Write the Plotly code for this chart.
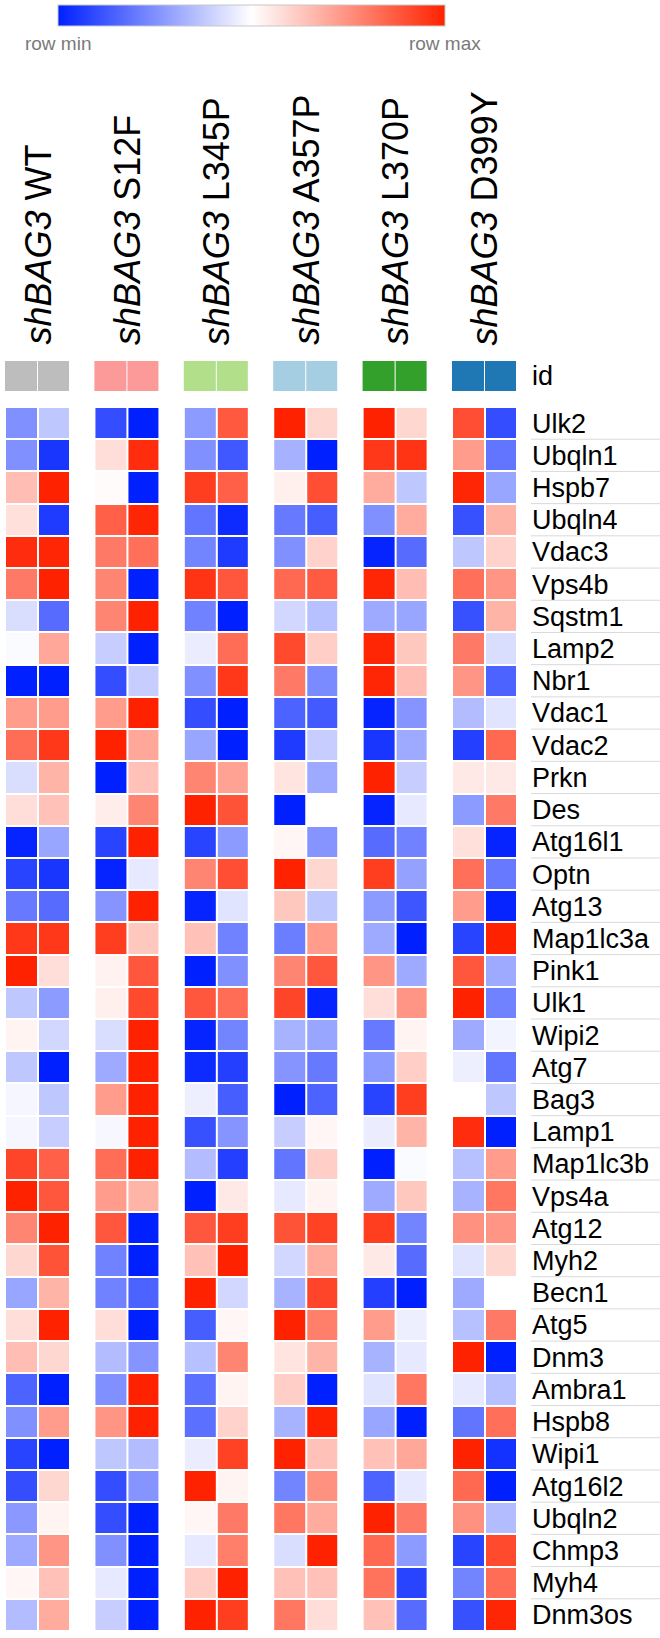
import plotly.graph_objects as go

genes = ["Ulk2", "Ubqln1", "Hspb7", "Ubqln4", "Vdac3", "Vps4b", "Sqstm1", "Lamp2", "Nbr1",
         "Vdac1", "Vdac2", "Prkn", "Des", "Atg16l1", "Optn", "Atg13", "Map1lc3a", "Pink1",
         "Ulk1", "Wipi2", "Atg7", "Bag3", "Lamp1", "Map1lc3b", "Vps4a", "Atg12", "Myh2",
         "Becn1", "Atg5", "Dnm3", "Ambra1", "Hspb8", "Wipi1", "Atg16l2", "Ubqln2", "Chmp3",
         "Myh4", "Dnm3os"]

group_labels = ["<i>shBAG3</i> WT", "<i>shBAG3</i> S12F", "<i>shBAG3</i> L345P",
                "<i>shBAG3</i> A357P", "<i>shBAG3</i> L370P", "<i>shBAG3</i> D399Y"]
group_colors = ["#bdbdbd", "#fb9a99", "#b2df8a", "#a6cee3", "#33a02c", "#1f78b4"]

# row-scaled expression (-1 = row min, +1 = row max), two replicates per group
wt_1 = [-0.5, -0.5, 0.3, 0.14, 0.95, 0.6, -0.15, -0.02, -1, 0.45, 0.66, -0.15, 0.15, -0.98, -0.84, -0.6, 0.9, 1, -0.25,
        0.05, -0.25, -0.04, -0.04, 0.84, 1, 0.55, 0.18, -0.4, 0.15, 0.3, -0.7, -0.5, -0.84, -0.8, -0.46, -0.38, 0.04, -0.3]
wt_2 = [-0.25, -0.9, 1, -0.88, 0.98, 1, -0.66, 0.4, -1, 0.45, 0.9, 0.34, 0.28, -0.4, -0.9, -0.66, 0.9, 0.15, -0.45,
        -0.18, -1, -0.25, -0.22, 0.72, 0.76, 1, 0.78, 0.34, 1, 0.18, -1, 0.45, -1, 0.18, 0.05, 0.48, 0.28, 0.38]
s12f_1 = [-0.8, 0.15, 0.02, 0.72, 0.6, 0.55, 0.55, -0.22, -0.8, 0.45, 1, -1, 0.08, -0.84, -0.98, -0.48, 0.88, 0.06, 0.07,
          -0.15, -0.38, 0.45, -0.03, 0.66, 0.45, 0.76, -0.56, -0.56, 0.15, -0.3, -0.5, 0.48, -0.25, -0.8, -0.8, -0.5, -0.1, -0.22]
s12f_2 = [-1, 0.95, -1, 0.98, 0.65, -1, 1, -1, -0.22, 1, 0.4, 0.28, 0.55, 1, -0.1, 1, 0.25, 0.76, 0.82,
          1, 1, 1, 1, 1, 0.34, -1, -1, -0.7, -1, -0.48, 1, 1, -0.3, -0.48, -1, -1, -1, -1]
l345p_1 = [-0.45, -0.5, 0.88, -0.62, -0.55, 0.92, -0.56, -0.08, -0.5, -0.8, -0.4, 0.55, 1, -0.84, 0.55, -0.98, 0.28, -1, 0.76,
           -0.98, -0.95, -0.07, -0.78, -0.3, -1, 0.76, 0.28, 1, -0.72, -0.28, -0.64, -0.64, -0.08, 1, 0.04, -0.1, 0.22, 1]
l345p_2 = [0.75, -0.75, 0.72, -0.95, -0.88, 0.76, -1, 0.66, 0.9, -1, -1, 0.42, 0.78, -0.45, 0.8, -0.12, -0.56, -0.5, 0.66,
           -0.55, -0.86, -0.72, -0.48, -0.86, 0.1, 0.88, 1, -0.18, 0.04, 0.55, 0.05, 0.2, 0.86, 0.05, 0.6, 0.58, 1, 0.88]
a357p_1 = [1, -0.35, 0.07, -0.6, -0.5, 0.68, -0.18, 0.82, 0.6, -0.7, -0.88, 0.12, -1, 0.04, 1, 0.25, -0.58, 0.55, 0.84,
           -0.34, -0.48, -1, -0.22, -0.62, -0.1, 0.78, -0.18, -0.34, 1, 0.12, 0.22, -0.34, 1, -0.55, 0.62, -0.15, 0.28, 0.62]
a357p_2 = [0.18, -1, 0.8, -0.72, 0.2, 0.74, -0.28, 0.22, -0.52, -0.74, -0.22, -0.38, 0.0, -0.48, 0.18, -0.25, 0.45, 0.76, -0.98,
           -0.4, -0.6, -0.7, 0.04, 0.22, 0.05, 0.86, 0.38, 0.84, 0.58, 0.34, -1, 1, 0.28, 0.5, 0.38, 1, 0.28, 0.15]
l370p_1 = [1, 0.9, 0.38, -0.5, -0.98, 0.98, -0.38, 0.98, 0.98, -0.98, -0.9, 1, -0.98, -0.66, 0.88, -0.45, -0.38, 0.48, 0.15,
           -0.6, -0.45, -0.84, -0.08, -1, -0.38, 0.88, 0.1, -0.86, 0.45, -0.34, -0.12, -0.4, 0.28, -0.7, 1, 0.68, 0.64, 0.28]
l370p_2 = [0.18, 0.92, -0.25, 0.38, -0.66, 0.3, -0.4, 0.25, 0.3, -0.48, -0.38, -0.22, -0.1, -0.56, -0.42, -0.76, -1, -0.38, 0.48,
           0.05, 0.22, 0.88, 0.34, -0.02, 0.25, -0.55, -0.66, -1, -0.07, -0.1, 0.62, -1, 0.4, -0.1, 0.6, -0.45, -0.84, -0.66]
d399y_1 = [0.8, 0.45, 0.98, -0.78, -0.25, 0.65, -0.78, 0.6, 0.48, -0.3, -0.86, 0.1, -0.45, 0.14, 0.65, 0.45, -0.84, 0.76, 1,
           -0.38, -0.07, 0.0, 0.95, -0.28, -0.34, 0.5, -0.12, -0.38, -0.28, 1, -0.1, -0.62, 1, 0.68, 0.5, -0.84, -0.55, -0.78]
d399y_2 = [-0.8, -0.62, -0.4, 0.34, 0.2, 0.48, 0.34, -0.15, -0.7, -0.12, 0.68, 0.1, 0.6, -0.98, -0.6, -0.98, 1, -0.38, -0.56,
           -0.05, -0.62, -0.25, -1, 0.45, 0.62, 0.48, 0.18, 0.0, 0.6, -1, -0.28, 0.65, -0.92, -1, -0.3, 0.82, 0.66, 0.98]

groups = [(wt_1, wt_2), (s12f_1, s12f_2), (l345p_1, l345p_2),
          (a357p_1, a357p_2), (l370p_1, l370p_2), (d399y_1, d399y_2)]
for a, b in groups:
    assert len(a) == len(genes) and len(b) == len(genes), (len(a), len(b))

# ---- layout constants (pixels) ----
W, H = 660, 1638
GROUP_PITCH = 2.75          # in cell units
X_LEFT, X_RIGHT = 5, 517    # heatmap horizontal extent
HM_TOP, HM_BOT = 407, 1631
ID_TOP, ID_BOT = 361, 391
LINE_X = 531
AXIS_X = 531
FONT = "Liberation Sans, Arial, Helvetica, sans-serif"

def py(p):
    return 1 - p / H

colorscale = [[0.0, "rgb(0,32,255)"], [0.5, "rgb(255,255,255)"], [1.0, "rgb(255,34,0)"]]
id_scale = [[i / (len(group_colors) - 1), c] for i, c in enumerate(group_colors)]

fig = go.Figure()
for g, (r1, r2) in enumerate(groups):
    xs = [g * GROUP_PITCH + 0.5, g * GROUP_PITCH + 1.5]
    z = [[a, b] for a, b in zip(r1, r2)]
    fig.add_trace(go.Heatmap(
        x=xs, y=genes, z=z, coloraxis="coloraxis",
        xgap=2, ygap=2, hoverinfo="skip"))
    fig.add_trace(go.Heatmap(
        x=xs, y=["id"], z=[[g, g]], colorscale=id_scale, zmin=0,
        zmax=len(group_colors) - 1, showscale=False, xgap=1,
        xaxis="x", yaxis="y2", hoverinfo="skip"))
    fig.add_annotation(
        x=g * GROUP_PITCH + 1, xref="x", y=py(347), yref="paper",
        text=group_labels[g], textangle=-90, showarrow=False,
        xanchor="center", yanchor="bottom",
        font=dict(family=FONT, size=36, color="black"))

shapes = []
for i in range(len(genes) - 1):
    shapes.append(dict(type="line", xref="paper", x0=LINE_X / W, x1=1,
                       yref="y", y0=i + 0.5, y1=i + 0.5,
                       line=dict(color="#d9d9d9", width=1)))

n_units = (len(groups) - 1) * GROUP_PITCH + 2

fig.update_layout(
    template="none",
    width=W, height=H,
    margin=dict(l=0, r=0, t=0, b=0, pad=0, autoexpand=False),
    paper_bgcolor="white", plot_bgcolor="white",
    showlegend=False,
    shapes=shapes,
    xaxis=dict(domain=[X_LEFT / W, X_RIGHT / W], range=[0, n_units],
               visible=False, fixedrange=True, automargin=False),
    yaxis=dict(domain=[py(HM_BOT), py(HM_TOP)], type="category",
               autorange="reversed", side="right", anchor="free",
               position=AXIS_X / W, showgrid=False, zeroline=False,
               showline=False, ticks="", automargin=False,
               tickfont=dict(family=FONT, size=27, color="black")),
    yaxis2=dict(domain=[py(ID_BOT), py(ID_TOP)], type="category",
                side="right", anchor="free", position=AXIS_X / W,
                showgrid=False, zeroline=False, showline=False, ticks="",
                automargin=False,
                tickfont=dict(family=FONT, size=27, color="black")),
    coloraxis=dict(
        colorscale=colorscale, cmin=-1, cmax=1,
        colorbar=dict(
            orientation="h", x=58 / W, xanchor="left",
            y=py(5), yanchor="top",
            lenmode="pixels", len=387, thicknessmode="pixels", thickness=21,
            xpad=0, ypad=0, outlinewidth=1, outlinecolor="#c8c8c8",
            tickvals=[-0.999, 0.999], ticktext=["row min", "row max"],
            ticks="", ticklabelposition="outside bottom",
            tickfont=dict(family=FONT, size=19, color="#7a7a7a"))),
)

fig.write_html(
    "out.html",
    config={"displayModeBar": False},
    post_script="document.body.style.margin='0';document.body.style.overflow='hidden';",
)
